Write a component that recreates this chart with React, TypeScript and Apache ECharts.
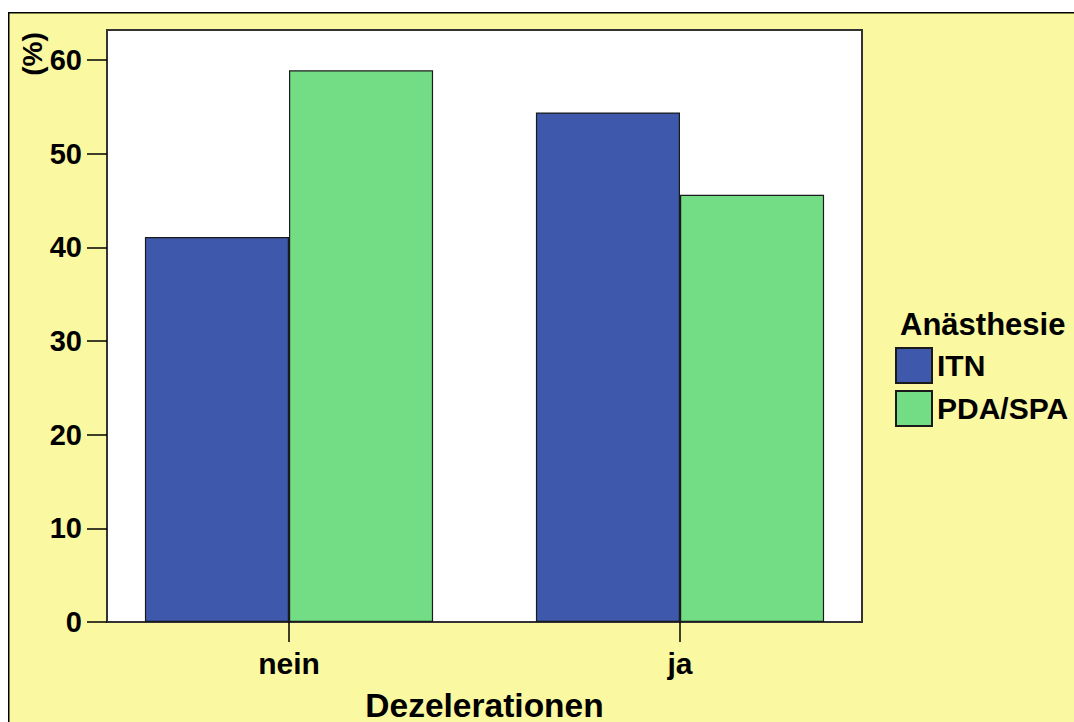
import React, { useEffect, useRef } from "react";
import * as echarts from "echarts";

const categories = ["nein", "ja"];
const seriesNames = ["ITN", "PDA/SPA"];
const itnValues = [41.1, 54.4];
const pdaValues = [58.9, 45.6];
const yTicks = [0, 10, 20, 30, 40, 50, 60];

const FONT = "'Liberation Sans', Arial, sans-serif";

export default function App() {
  const ref = useRef<HTMLDivElement>(null);
  useEffect(() => {
    document.documentElement.style.overflow = "hidden";
    document.body.style.overflow = "hidden";
    document.body.style.margin = "0";
    if (!ref.current) return;
    const chart = echarts.init(ref.current, null, { renderer: "svg" });
    chart.setOption({
      animation: false,
      backgroundColor: "#FFFFFF",
      textStyle: { fontFamily: FONT },
      graphic: [
        {
          type: "rect",
          z: -20,
          silent: true,
          shape: { x: 8.75, y: 12.75, width: 1100, height: 760 },
          style: { fill: "#FAF8A0", stroke: "#000", lineWidth: 1.5 },
        },
        {
          type: "rect",
          z: -10,
          silent: true,
          shape: { x: 107, y: 30, width: 755, height: 592 },
          style: { fill: "#FFFFFF", stroke: "#333", lineWidth: 2 },
        },
        {
          type: "text",
          x: 32,
          y: 54,
          rotation: Math.PI / 2,
          style: {
            text: "(%)",
            fontFamily: FONT,
            fontWeight: "bold",
            fontSize: 28,
            fill: "#000",
            align: "center",
            verticalAlign: "middle",
          },
        },
      ],
      title: {
        text: "Anästhesie",
        left: 900,
        top: 309,
        padding: 0,
        textStyle: { fontFamily: FONT, fontWeight: "bold", fontSize: 31, color: "#000" },
      },
      legend: {
        orient: "vertical",
        left: 895,
        top: 347,
        padding: 0,
        itemWidth: 36,
        itemHeight: 35,
        itemGap: 6,
        icon: "rect",
        data: seriesNames,
        textStyle: { fontFamily: FONT, fontWeight: "bold", fontSize: 30, color: "#000" },
      },
      grid: {
        left: 93.5,
        right: 198.5,
        top: 30,
        bottom: 100,
        containLabel: false,
        outerBoundsMode: "none",
      },
      xAxis: {
        type: "category",
        data: categories,
        axisLine: { show: false },
        axisTick: { show: true, alignWithLabel: true, length: 20, lineStyle: { color: "#000", width: 1.5 } },
        axisLabel: { margin: 26, fontFamily: FONT, fontWeight: "bold", fontSize: 30, color: "#000" },
        name: "Dezelerationen",
        nameLocation: "middle",
        nameGap: 66,
        nameTextStyle: { fontFamily: FONT, fontWeight: "bold", fontSize: 33.5, color: "#000" },
      },
      yAxis: {
        type: "value",
        min: 0,
        max: 63.2,
        interval: 10,
        offset: -13.5,
        splitLine: { show: false },
        axisLine: { show: false },
        axisTick: {
          show: true,
          length: 20,
          customValues: yTicks,
          lineStyle: { color: "#000", width: 1.5 },
        },
        axisLabel: {
          margin: 25,
          customValues: yTicks,
          fontFamily: FONT,
          fontWeight: "bold",
          fontSize: 29,
          color: "#000",
        },
      },
      series: [
        {
          name: seriesNames[0],
          type: "bar",
          data: itnValues,
          barGap: "0%",
          barCategoryGap: "26.3%",
          itemStyle: { color: "#3E59AB", borderColor: "#1a1a1a", borderWidth: 1.2 },
        },
        {
          name: seriesNames[1],
          type: "bar",
          data: pdaValues,
          barGap: "0%",
          barCategoryGap: "26.3%",
          itemStyle: { color: "#72DD85", borderColor: "#1a1a1a", borderWidth: 1.2 },
        },
      ],
    });
    return () => chart.dispose();
  }, []);
  return <div ref={ref} style={{ width: 1074, height: 722 }} />;
}
